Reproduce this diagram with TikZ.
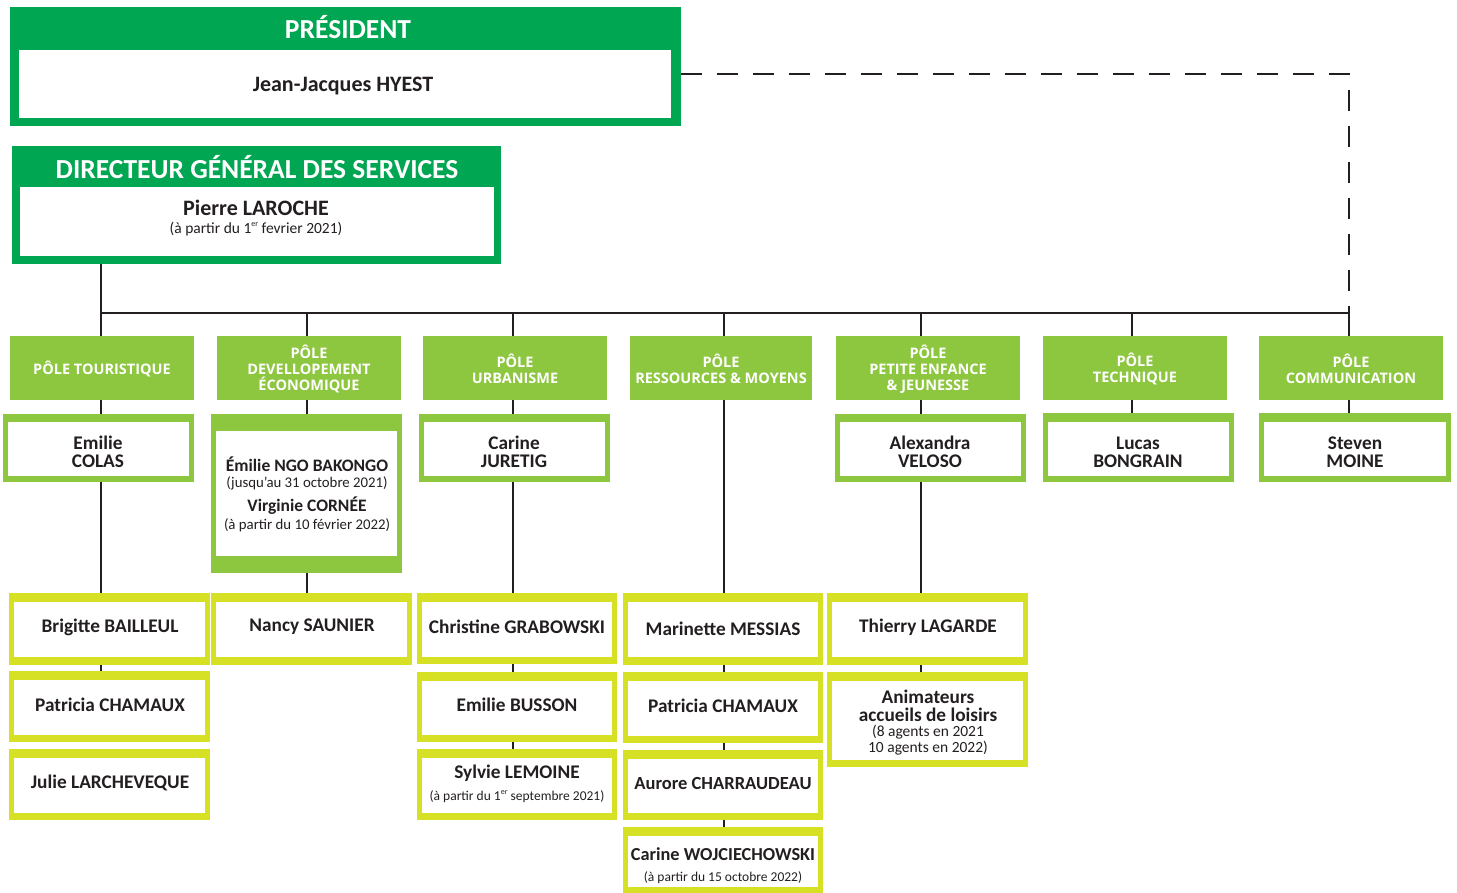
\documentclass[tikz,border=0pt]{standalone}
\usepackage{fontspec}
\setmainfont{Carlito}
\newfontfamily\polefont{Open Sans}
\usetikzlibrary{calc}
\definecolor{dgreen}{RGB}{0,166,81}
\definecolor{pgreen}{RGB}{141,198,63}
\definecolor{ygreen}{RGB}{214,224,36}
\definecolor{linec}{RGB}{35,31,32}
\newcommand\obox[6]{%
  \node[boxbase, fill=#6, minimum width={#4-#2}, minimum height={#5-#3}] (#1) at (#2,#3) {};}
\newcommand\ibox[4]{%
  \fill[white] ([xshift=#3pt,yshift=-#2pt]#1.north west) rectangle ([xshift=-#3pt,yshift=#4pt]#1.south east);}
\newcommand\supr[1]{\raisebox{0.45em}{\fontsize{8}{8}\selectfont #1}}
\begin{document}
\begin{tikzpicture}[x=1pt,y=-1pt,
  boxbase/.style={inner sep=0pt, outer sep=0pt, anchor=north west},
  conn/.style={draw=linec, line width=1.8pt},
  dashline/.style={draw=linec, line width=1.8pt, dash pattern=on 21pt off 15pt},
  hdr/.style={font=\bfseries\fontsize{27.5}{30}\selectfont, text=white, inner sep=0pt},
  poletxt/.style={font=\polefont\bfseries\fontsize{14.5}{16}\selectfont, text=white, align=center, inner sep=0pt},
  bigname/.style={font=\bfseries\fontsize{22}{24}\selectfont, text=linec, inner sep=0pt},
  pname/.style={font=\bfseries\fontsize{19.3}{18}\selectfont, text=linec, align=center, inner sep=0pt},
  small/.style={font=\fontsize{14.8}{16}\selectfont, text=linec, align=center, inner sep=0pt},
  tiny/.style={font=\fontsize{13.5}{16}\selectfont, text=linec, align=center, inner sep=0pt},
]
\useasboundingbox (0,0) rectangle (1457,893);
\fill[white] (0,0) rectangle (1457,893);

% President
\obox{pres}{10}{7}{681}{126}{dgreen}
\fill[white] (19,50) rectangle (671,118);
\node[hdr] (prest) at (348,27) {PRÉSIDENT};
\node[bigname] (presn) at (343,86) {Jean-Jacques HYEST};

% DGS
\obox{dgs}{12}{146}{501}{264}{dgreen}
\fill[white] (20,187) rectangle (494,256);
\node[hdr] (dgst) at (257,167) {DIRECTEUR GÉNÉRAL DES SERVICES};
\node[bigname] (dgsn) at (256,208) {Pierre LAROCHE};
\node[small, font=\fontsize{15.5}{16}\selectfont] (dgsd) at (256,229) {(à partir du 1\supr{er} fevrier 2021)};

% Poles
\obox{p1}{10}{336}{194}{400}{pgreen}
\obox{p2}{217}{336}{401}{400}{pgreen}
\obox{p3}{423}{336}{607}{400}{pgreen}
\obox{p4}{630}{336}{812}{400}{pgreen}
\obox{p5}{836}{336}{1020}{400}{pgreen}
\obox{p6}{1043}{336}{1227}{400}{pgreen}
\obox{p7}{1259}{336}{1443}{400}{pgreen}
\node[poletxt] (p1t) at ([yshift=-1pt]p1.center) {PÔLE TOURISTIQUE};
\node[poletxt] (p2t) at ([yshift=-1pt]p2.center) {PÔLE\\DEVELLOPEMENT\\ÉCONOMIQUE};
\node[poletxt] (p3t) at ([yshift=-1pt]p3.center) {PÔLE\\URBANISME};
\node[poletxt] (p4t) at ([yshift=-1pt]p4.center) {PÔLE\\RESSOURCES \& MOYENS};
\node[poletxt] (p5t) at ([yshift=-1pt]p5.center) {PÔLE\\PETITE ENFANCE\\\& JEUNESSE};
\node[poletxt] (p6t) at ([yshift=-1pt]p6.center) {PÔLE\\TECHNIQUE};
\node[poletxt] (p7t) at ([yshift=-1pt]p7.center) {PÔLE\\COMMUNICATION};

% Pole heads (level 1)
\obox{emilie}{3}{414}{194}{482}{pgreen}\ibox{emilie}{8}{5}{6}
\obox{dev}{211}{414}{402}{573}{pgreen}\ibox{dev}{17}{5}{17}
\obox{carine}{419}{414}{610}{482}{pgreen}\ibox{carine}{8}{5}{6}
\obox{alex}{835}{414}{1026}{482}{pgreen}\ibox{alex}{8}{5}{6}
\obox{lucas}{1043}{413}{1234}{482}{pgreen}\ibox{lucas}{9}{5}{6}
\obox{steven}{1259}{413}{1451}{482}{pgreen}\ibox{steven}{9}{5}{6}
\node[pname] (emiliet) at (98,452) {Emilie\\COLAS};
\node[pname] (carinet) at (514,452) {Carine\\JURETIG};
\node[pname] (alext) at (930,452) {Alexandra\\VELOSO};
\node[pname] (lucast) at (1138,452) {Lucas\\BONGRAIN};
\node[pname] (stevent) at (1355,452) {Steven\\MOINE};
\node[pname, font=\bfseries\fontsize{17.5}{18}\selectfont] (dev1) at (307,464) {Émilie NGO BAKONGO};
\node[small] (dev2) at (307,483) {(jusqu’au 31 octobre 2021)};
\node[pname, font=\bfseries\fontsize{17.5}{18}\selectfont] (dev3) at (307,506) {Virginie CORNÉE};
\node[small] (dev4) at (307,525) {(à partir du 10 février 2022)};

% Level 2 boxes
\obox{brig}{9}{593}{210}{665}{ygreen}\ibox{brig}{9}{5}{8}
\obox{pat1}{9}{671}{210}{742}{ygreen}\ibox{pat1}{9}{5}{7}
\obox{julie}{9}{749}{210}{820}{ygreen}\ibox{julie}{9}{5}{7}
\obox{nancy}{211}{593}{412}{665}{ygreen}\ibox{nancy}{9}{5}{8}
\obox{chris}{417}{593}{617}{664}{ygreen}\ibox{chris}{9}{5}{7}
\obox{busson}{417}{672}{617}{742}{ygreen}\ibox{busson}{9}{5}{7}
\obox{sylvie}{417}{749}{617}{820}{ygreen}\ibox{sylvie}{9}{5}{7}
\obox{mari}{623}{593}{823}{665}{ygreen}\ibox{mari}{9}{5}{8}
\obox{pat2}{623}{672}{823}{743}{ygreen}\ibox{pat2}{9}{5}{7}
\obox{aurore}{623}{750}{823}{820}{ygreen}\ibox{aurore}{9}{5}{7}
\obox{carinew}{623}{827}{823}{893}{ygreen}\ibox{carinew}{9}{5}{6}
\obox{thierry}{827}{593}{1028}{665}{ygreen}\ibox{thierry}{9}{5}{8}
\obox{anim}{827}{672}{1028}{767}{ygreen}\ibox{anim}{9}{5}{7}

\node[pname] (brigt) at (110,627) {Brigitte BAILLEUL};
\node[pname] (pat1t) at (110,705) {Patricia CHAMAUX};
\node[pname] (juliet) at (110,783) {Julie LARCHEVEQUE};
\node[pname] (nancyt) at (312,627) {Nancy SAUNIER};
\node[pname] (christ) at (517,627) {Christine GRABOWSKI};
\node[pname] (bussont) at (517,705) {Emilie BUSSON};
\node[pname] (sylvien) at (517,773) {Sylvie LEMOINE};
\node[tiny] (sylvied) at (517,797) {(à partir du 1\supr{er} septembre 2021)};
\node[pname] (marit) at (723,629) {Marinette MESSIAS};
\node[pname] (pat2t) at (723,706) {Patricia CHAMAUX};
\node[pname, font=\bfseries\fontsize{18.5}{18}\selectfont] (auroret) at (723,783) {Aurore CHARRAUDEAU};
\node[pname, font=\bfseries\fontsize{18.3}{18}\selectfont] (carinewn) at (723,854) {Carine WOJCIECHOWSKI};
\node[tiny] (carinewd) at (723,878) {(à partir du 15 octobre 2022)};
\node[pname] (thierryt) at (928,627) {Thierry LAGARDE};
\node[pname] (animt) at (928,706) {Animateurs\\accueils de loisirs};
\node[small, font=\fontsize{15.5}{16}\selectfont] (animd) at (928,740) {(8 agents en 2021\\10 agents en 2022)};

% Connectors
\coordinate (bus) at (101,313);
\coordinate (busend) at (1349,313);
\coordinate (l2) at (307,313);
\coordinate (l3) at (513,313);
\coordinate (l4) at (724,313);
\coordinate (l5) at (921,313);
\coordinate (l6) at (1132,313);
\coordinate (dc) at (1349,74);
\draw[dashline] (pres.east |- dc) -- (dc) -- (busend);
\draw[conn] (bus |- dgs.south) -- (bus) -- (busend);
\draw[conn] (bus) -- (bus |- p1.north);
\draw[conn] (bus |- p1.south) -- (bus |- emilie.north);
\draw[conn] (bus |- emilie.south) -- (bus |- brig.north);
\draw[conn] (bus |- brig.south) -- (bus |- pat1.north);
\draw[conn] (l2) -- (l2 |- p2.north);
\draw[conn] (l2 |- p2.south) -- (l2 |- dev.north);
\draw[conn] (l2 |- dev.south) -- (l2 |- nancy.north);
\draw[conn] (l3) -- (l3 |- p3.north);
\draw[conn] (l3 |- p3.south) -- (l3 |- carine.north);
\draw[conn] (l3 |- carine.south) -- (l3 |- chris.north);
\draw[conn] (l3 |- chris.south) -- (l3 |- busson.north);
\draw[conn] (l3 |- busson.south) -- (l3 |- sylvie.north);
\draw[conn] (l4) -- (l4 |- p4.north);
\draw[conn] (l4 |- p4.south) -- (l4 |- mari.north);
\draw[conn] (l4 |- mari.south) -- (l4 |- pat2.north);
\draw[conn] (l4 |- pat2.south) -- (l4 |- aurore.north);
\draw[conn] (l4 |- aurore.south) -- (l4 |- carinew.north);
\draw[conn] (l5) -- (l5 |- p5.north);
\draw[conn] (l5 |- p5.south) -- (l5 |- alex.north);
\draw[conn] (l5 |- alex.south) -- (l5 |- thierry.north);
\draw[conn] (l5 |- thierry.south) -- (l5 |- anim.north);
\draw[conn] (l6) -- (l6 |- p6.north);
\draw[conn] (l6 |- p6.south) -- (l6 |- lucas.north);
\draw[conn] (busend) -- (busend |- p7.north);
\draw[conn] (busend |- p7.south) -- (busend |- steven.north);
\end{tikzpicture}
\end{document}
